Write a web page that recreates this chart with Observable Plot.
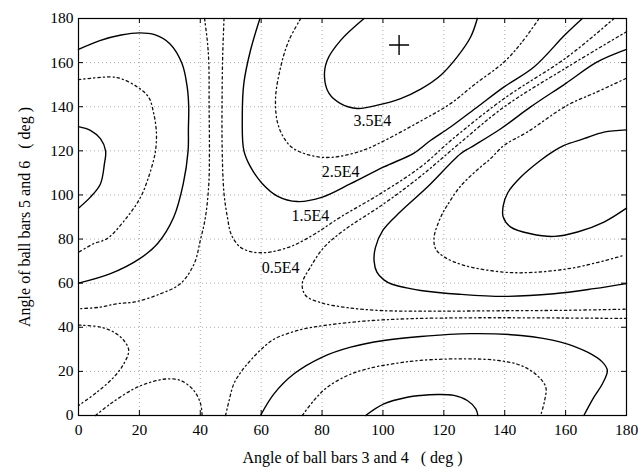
<!DOCTYPE html>
<html><head><meta charset="utf-8">
<script src="https://cdn.jsdelivr.net/npm/d3@7"></script>
<script src="https://cdn.jsdelivr.net/npm/@observablehq/plot@0.6"></script>
<style>body{margin:0;background:#fff}</style>
</head><body><div id="chart"></div>
<script>
const xTicks = [0,20,40,60,80,100,120,140,160,180];
const yTicks = [0,20,40,60,80,100,120,140,160,180];

// solid contour lines [angle34, angle56]
const solidA0 = [[0,131],[3.9,129.3],[7.2,125.5],[8.9,120],[8.5,114],[7.2,105],[3.9,99],[0,94]];
const solidA1 = [[0,166],[7,170],[14,172.5],[20,173.5],[25,172.7],[30,168.6],[34,159.6],[35.7,149],[36.2,140],[36.1,130],[36,120],[34.4,105],[31.3,90],[26,78],[20,71],[10.5,64.3],[0,60]];
const solidA2 = [[59.6,180],[56.5,165.6],[54.3,150.5],[53.8,135.3],[54.3,120.2],[56.5,112.7],[60.4,105.1],[65.3,99.5],[71.9,97],[80.1,99],[89.4,105.1],[100.3,112.7],[110.2,119],[115.7,124.8],[122.2,130.8],[131,139.9],[139.8,149],[149.6,158],[159.8,172.6],[165.5,180]];
const solidA3 = [[180,166],[170.4,160.3],[160,150.5],[148.5,139.9],[138.7,130],[128.8,121.5],[125.5,118.7],[114.6,103.6],[105.8,92.5],[100,84],[97.5,76],[97.1,70],[98,65],[100.3,61.5],[103,59.5],[109,57.5],[112.4,56.7],[125,55],[139.8,54],[156.2,55.2],[169.3,57.5],[180,59.8]];
const solidA4 = [[93.8,180],[86.1,170.1],[81.7,161.1],[80.8,153.5],[82.3,146],[86.1,141.4],[91.6,139.2],[98.2,140.7],[105.8,143.7],[112.4,148],[119,154.3],[124.4,162.6],[128.8,171.6],[131,180]];
const solidA5 = [[180,129.5],[172.6,128.5],[166,125.5],[159.5,122.5],[156.2,120],[151.8,115.7],[145.3,108.1],[141,101],[139.5,95],[139.5,90],[142,85.4],[148.5,82.4],[156.2,81.2],[163.9,83.2],[172.6,87.7],[180,94]];
const solidA6 = [[59.8,0],[64.2,9.8],[70.8,18.9],[80.1,26.5],[89.4,31],[100.3,34],[112.4,35.8],[128.8,37.1],[145.3,36.3],[158.4,33.3],[167.2,28.7],[172.1,24.2],[173.7,20.4],[172.1,14.4],[169.3,8.3],[166,0]];
const solidA7 = [[94.3,0],[100.3,5.3],[108,8.3],[112.4,9.1],[118,9.5],[123.3,9.1],[127.7,6.8],[130.5,3],[131.2,0]];

// dash-dot contour lines
const dashB1 = [[0,152.3],[10.5,153.5],[13.8,152.8],[19.3,149],[23,144.4],[24.7,137],[25.6,128],[25.3,120],[24.7,116],[23,108],[20.4,99],[16,90],[9.4,80.2],[5,77.9],[0,74]];
const dashC1 = [[41.4,180],[42.3,170],[42.8,160],[42.9,140],[43,120],[42.8,105],[41.7,90],[40,79.4],[38,68.8],[33.5,59.8],[27,55.2],[18.5,51.5],[12.7,50.7],[7,49.1],[0,48.4]];
const dashC2 = [[47.8,180],[47.4,165],[47.2,150],[47.2,120],[47.8,100.6],[48.9,90],[50.2,82],[53,76.5],[56.5,74.3],[60,73.8],[63.5,74.2],[68,75.8],[72,78],[78.4,83],[86.1,90],[99.2,100.6],[112.4,112.7],[123,125.5],[139.8,143.7],[160.6,162.6],[175.9,180]];
const dashC4 = [[180,174],[160.6,158],[139.8,139.9],[124.4,122.5],[112.4,108.5],[100.3,96],[87.2,84],[80.6,76.2],[76.2,67.3],[73.5,59.8],[74.6,54.4],[79.5,51.2],[88.3,48.9],[99.2,47.6],[112.4,47.3],[140,47.5],[160,47.7],[180,48.2]];
const dashC3 = [[48.3,0],[49.5,7],[51,14.3],[53.5,20],[56.5,25],[60,30],[64.2,34.6],[69,37.3],[74,39.3],[80.6,40.8],[93.8,42.8],[109.1,43.9],[130,44.3],[160,44.2],[180,44]];
const dashC5 = [[0,41],[7.2,40.1],[11.6,37.8],[14.9,34],[16.5,29.5],[14.9,23.5],[11.6,17.4],[6.1,10.6],[0,4.5]];
const dashC6 = [[5.6,0],[10.5,5.3],[18.2,12.1],[23.7,15.1],[29.1,16.6],[33.5,15.9],[37.9,11.3],[40.1,5.3],[40.6,0]];
const dashB3 = [[179.8,152.8],[170,146.5],[160.6,140.7],[147.4,128.5],[139.8,122.5],[135,116],[132.1,112.7],[125.5,104],[121,95],[119,90],[116.8,80.9],[117.3,75.6],[120,72],[126.6,68.1],[139.8,65],[150.7,65],[163.9,67.3],[179.2,72.6]];
const dashB4 = [[73,180],[69.1,170],[66.4,158],[64.7,143],[65.8,130.8],[69.7,122],[75,118.4],[81,117],[87,117.8],[94,120.5],[101,125],[112.4,133.5],[122.2,141.4],[130,150],[139.8,160.3],[145.5,169],[151.3,180]];
const dashB6 = [[73.5,0],[77.3,6.8],[81.7,12.8],[88.3,18.1],[94.9,21.2],[103.6,23.5],[112.4,25],[126.6,25.7],[137.6,25],[145.3,22.7],[150.7,18.1],[153.5,12.8],[153.1,6.8],[151.8,0]];

const labelText = ["3.5E4","2.5E4","1.5E4","0.5E4"];
const labelX = [96.5, 86.1, 76.2, 66.4];
const labelY = [133.8, 110.4, 90.7, 67.0];
const markerX = [105.3];
const markerY = [168];

const xTitle = "Angle of ball bars 3 and 4\u00a0\u00a0\u00a0( deg )";
const yTitle = "Angle of ball bars 5 and 6\u00a0\u00a0\u00a0( deg )";

const solids = {solidA0, solidA1, solidA2, solidA3, solidA4, solidA5, solidA6, solidA7};
const dashes = {dashB1, dashC1, dashC2, dashC3, dashC4, dashC5, dashC6, dashB3, dashB4, dashB6};
const toRows = obj => Object.entries(obj).flatMap(([id, pts]) => pts.map(([x, y]) => ({id, x, y})));
const solidRows = toRows(solids);
const dashRows = toRows(dashes);

const W = 643, H = 472, mL = 78, mR = 17, mT = 18, mB = 57;
const innerW = W - mL - mR, innerH = H - mT - mB, tk = 5;

const chart = Plot.plot({
  width: W, height: H,
  marginLeft: mL, marginRight: mR, marginTop: mT, marginBottom: mB,
  style: {fontFamily: "'Liberation Serif', 'Times New Roman', serif", fontSize: "15.5px", color: "#000", background: "#fff", overflow: "visible"},
  x: {domain: [0, 180], ticks: xTicks, tickSize: 0, tickPadding: 8, label: null},
  y: {domain: [0, 180], ticks: yTicks, tickSize: 0, tickPadding: 5, label: null},
  marks: [
    Plot.ruleX(xTicks, {stroke: "#aaa", strokeDasharray: "1,3", strokeWidth: 1}),
    Plot.ruleY(yTicks, {stroke: "#aaa", strokeDasharray: "1,3", strokeWidth: 1}),
    Plot.line(solidRows, {x: "x", y: "y", z: "id", curve: "catmull-rom", stroke: "#000", strokeWidth: 1.4}),
    Plot.line(dashRows, {x: "x", y: "y", z: "id", curve: "catmull-rom", stroke: "#111", strokeWidth: 1.3, strokeDasharray: "2.5,3,1.2,3"}),
    Plot.ruleX(xTicks, {stroke: "#000", insetTop: innerH - tk}),
    Plot.ruleX(xTicks, {stroke: "#000", insetBottom: innerH - tk}),
    Plot.ruleY(yTicks, {stroke: "#000", insetRight: innerW - tk}),
    Plot.ruleY(yTicks, {stroke: "#000", insetLeft: innerW - tk}),
    Plot.frame({stroke: "#000", strokeWidth: 1.2}),
    Plot.text(labelText, {x: (d, i) => labelX[i], y: (d, i) => labelY[i], text: d => d, fontSize: 16, fill: "#000"}),
    Plot.dot(markerX, {x: d => d, y: (d, i) => markerY[i], symbol: "plus", r: 6.5, stroke: "#000", strokeWidth: 1.4}),
    Plot.text([xTitle], {frameAnchor: "bottom", dy: 47, text: d => d, fontSize: 16, fill: "#000"}),
    Plot.text([yTitle], {frameAnchor: "left", textAnchor: "middle", dx: -54, rotate: -90, text: d => d, fontSize: 16, fill: "#000"})
  ]
});
document.getElementById("chart").appendChild(chart);
</script>
</body></html>
